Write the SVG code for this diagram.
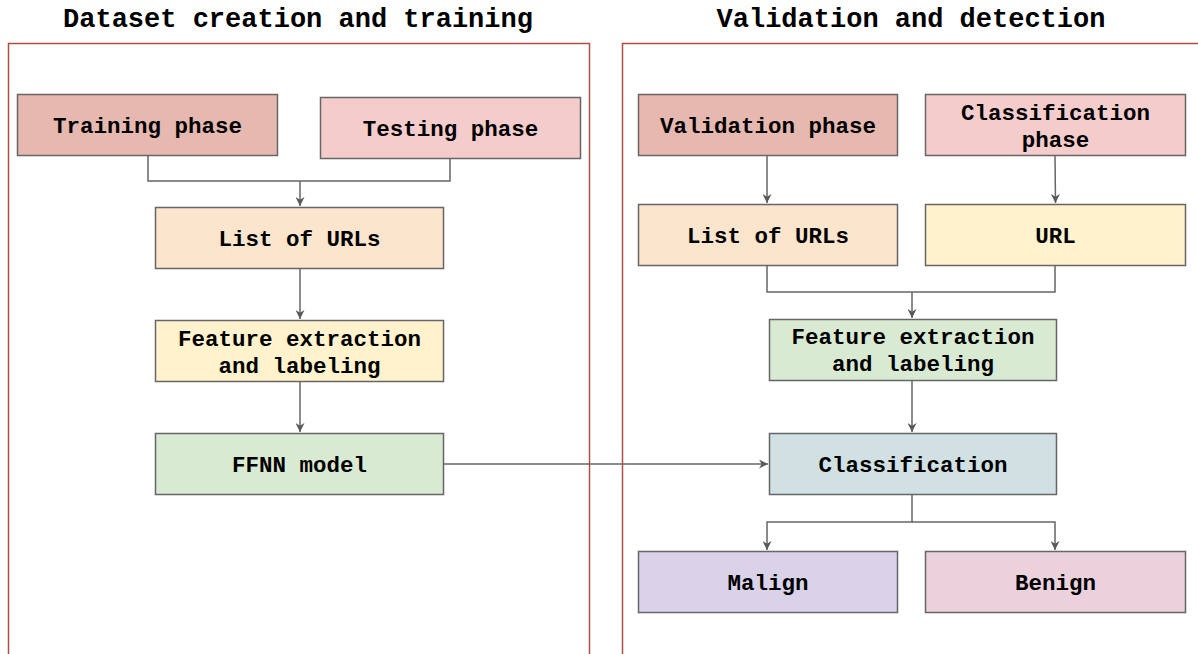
<svg xmlns="http://www.w3.org/2000/svg" width="1198" height="654" viewBox="0 0 1198 654">
<defs>
<style>
.title{font-family:"Liberation Mono","Courier New",monospace;font-weight:bold;font-size:27px;fill:#000;text-anchor:middle}
.lbl{font-family:"Liberation Mono","Courier New",monospace;font-weight:bold;font-size:22.5px;fill:#000;text-anchor:middle}
.box{stroke:#666;stroke-width:1.5}
.cont{fill:none;stroke:#AE4F45;stroke-width:1.5}
.edge{fill:none;stroke:#666;stroke-width:1.5}
</style>
<marker id="ah" viewBox="0 0 10 10" refX="10" refY="5" markerWidth="9" markerHeight="9" markerUnits="userSpaceOnUse" orient="auto">
<path d="M0,0 L10,5 L0,10 L3,5 z" fill="#595959"/>
</marker>
</defs>
<rect width="1198" height="654" fill="#fff"/>
<g id="containers">
<rect class="cont" x="8.5" y="43.5" width="581" height="640"/>
<rect class="cont" x="622.5" y="43.5" width="600" height="640"/>
<text class="title" x="298" y="27">Dataset creation and training</text>
<text class="title" x="911" y="27">Validation and detection</text>
</g>
<g id="connectors">
<polyline class="edge" points="148,155 148,181 450,181 450,158"/>
<line class="edge" x1="300" y1="181" x2="300" y2="206" marker-end="url(#ah)"/>
<line class="edge" x1="300" y1="268" x2="300" y2="319" marker-end="url(#ah)"/>
<line class="edge" x1="300" y1="381" x2="300" y2="432" marker-end="url(#ah)"/>
<line class="edge" x1="443" y1="464" x2="768" y2="464" marker-end="url(#ah)"/>
<line class="edge" x1="767" y1="155" x2="767" y2="203" marker-end="url(#ah)"/>
<line class="edge" x1="1055" y1="155" x2="1055.5" y2="203" marker-end="url(#ah)"/>
<polyline class="edge" points="767,265 767,292 1055,292 1055,265"/>
<line class="edge" x1="912" y1="292" x2="912" y2="318" marker-end="url(#ah)"/>
<line class="edge" x1="912" y1="380" x2="912" y2="432" marker-end="url(#ah)"/>
<polyline class="edge" points="912,494 912,522 767,522 767,550" marker-end="url(#ah)"/>
<polyline class="edge" points="912,522 1055,522 1055,550" marker-end="url(#ah)"/>
</g>
<g id="training-phase"><rect class="box" x="17.5" y="94.5" width="260" height="61" fill="#E6B8AF"/><text class="lbl" x="147.5" y="133">Training phase</text></g>
<g id="testing-phase"><rect class="box" x="320.5" y="97.5" width="260" height="61" fill="#F4CCCC"/><text class="lbl" x="450.5" y="136">Testing phase</text></g>
<g id="list-urls-left"><rect class="box" x="155.5" y="207.5" width="288" height="61" fill="#FCE5CD"/><text class="lbl" x="299.5" y="246">List of URLs</text></g>
<g id="feature-left"><rect class="box" x="155.5" y="320.5" width="288" height="61" fill="#FFF2CC"/><text class="lbl" x="299.5" y="346">Feature extraction</text><text class="lbl" x="299.5" y="373">and labeling</text></g>
<g id="ffnn-model"><rect class="box" x="155.5" y="433.5" width="288" height="61" fill="#D9EAD3"/><text class="lbl" x="299.5" y="472">FFNN model</text></g>
<g id="validation-phase"><rect class="box" x="638.5" y="94.5" width="259" height="61" fill="#E6B8AF"/><text class="lbl" x="768" y="133">Validation phase</text></g>
<g id="classification-phase"><rect class="box" x="925.5" y="94.5" width="260" height="61" fill="#F4CCCC"/><text class="lbl" x="1055.5" y="120">Classification</text><text class="lbl" x="1055.5" y="147">phase</text></g>
<g id="list-urls-right"><rect class="box" x="638.5" y="204.5" width="259" height="61" fill="#FCE5CD"/><text class="lbl" x="768" y="243">List of URLs</text></g>
<g id="url"><rect class="box" x="925.5" y="204.5" width="260" height="61" fill="#FFF2CC"/><text class="lbl" x="1055.5" y="243">URL</text></g>
<g id="feature-right"><rect class="box" x="769.5" y="319.5" width="287" height="61" fill="#D9EAD3"/><text class="lbl" x="913" y="344">Feature extraction</text><text class="lbl" x="913" y="371">and labeling</text></g>
<g id="classification"><rect class="box" x="769.5" y="433.5" width="287" height="61" fill="#D0E0E3"/><text class="lbl" x="913" y="472">Classification</text></g>
<g id="malign"><rect class="box" x="638.5" y="551.5" width="259" height="61" fill="#D9D2E9"/><text class="lbl" x="768" y="590">Malign</text></g>
<g id="benign"><rect class="box" x="925.5" y="551.5" width="260" height="61" fill="#EAD1DC"/><text class="lbl" x="1055.5" y="590">Benign</text></g>
</svg>
